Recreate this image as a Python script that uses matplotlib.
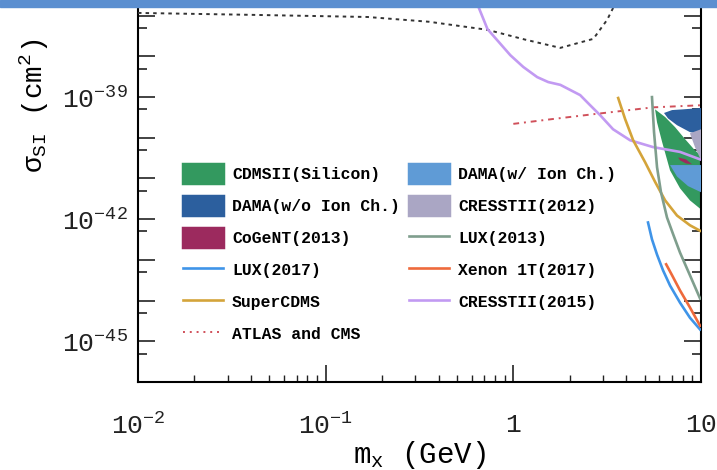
import math
import matplotlib
matplotlib.use('Agg')
import matplotlib.pyplot as plt
from matplotlib.patches import Patch, Rectangle
from matplotlib.lines import Line2D
from matplotlib.ticker import FixedLocator, FuncFormatter, NullFormatter

plt.rcParams['font.family'] = ['Liberation Mono', 'DejaVu Sans']
plt.rcParams['mathtext.fontset'] = 'custom'
plt.rcParams['mathtext.rm'] = 'Liberation Mono'
plt.rcParams['mathtext.it'] = 'Liberation Mono'
plt.rcParams['mathtext.bf'] = 'Liberation Mono:bold'
plt.rcParams['axes.unicode_minus'] = False

# ---- data (mass in GeV, cross section in cm^2) ----
# unlabelled dotted bound at the top
dotted_mass = [0.01, 0.04, 0.167, 0.355, 0.728, 1.15, 1.78, 2.67, 3.16, 3.47, 3.8]
dotted_sigma = [1.17e-37, 1.05e-37, 9.3e-38, 7.1e-38, 4.5e-38, 2.6e-38, 1.62e-38, 2.7e-38, 7.9e-38, 1.86e-37, 5e-37]

cresst15_mass = [0.605, 0.645, 0.728, 0.964, 1.13, 1.34, 1.535, 1.78, 2.27, 2.55, 2.90, 3.40, 4.19, 5.56, 7.73, 9.89]
cresst15_sigma = [4e-37, 1.86e-37, 4.7e-38, 1.07e-38, 5.5e-39, 3.1e-39, 2.34e-39, 2.0e-39, 1.12e-39, 6.5e-40,
                  3.6e-40, 1.62e-40, 8.7e-41, 5.9e-41, 4.5e-41, 2.95e-41]

atlas_mass = [1.0, 1.63, 2.67, 5.56, 9.89]
atlas_sigma = [2.2e-40, 2.9e-40, 3.8e-40, 5.6e-40, 6.3e-40]

supercdms_mass = [3.62, 3.94, 4.35, 5.04, 5.69, 6.44, 7.45, 8.73, 9.89]
supercdms_sigma = [9.5e-40, 2.9e-40, 8.7e-41, 2.5e-41, 8.3e-42, 2.9e-42, 1.23e-42, 7.1e-43, 5.2e-43]

lux13_mass = [5.48, 5.62, 5.83, 6.12, 6.59, 7.10, 7.73, 8.73, 9.89]
lux13_sigma = [1.0e-39, 1.38e-40, 1.9e-41, 4.6e-42, 1.10e-42, 4.3e-43, 1.51e-43, 4.2e-44, 1.12e-44]

lux17_mass = [5.22, 5.48, 5.83, 6.28, 6.84, 7.73, 8.73, 9.89]
lux17_sigma = [8.3e-43, 3.2e-43, 1.35e-43, 5.5e-44, 2.34e-44, 8.9e-45, 3.8e-45, 1.95e-45]

xenon_mass = [6.52, 7.01, 7.73, 8.73, 9.89]
xenon_sigma = [7.8e-44, 4.2e-44, 1.78e-44, 6.8e-45, 2.4e-45]

cdms_si_mass = [5.69, 6.44, 7.28, 8.22, 9.29, 10.0, 10.0, 8.73, 7.73, 6.84, 6.21, 5.83]
cdms_si_sigma = [5.0e-40, 3.24e-40, 1.82e-40, 9.3e-41, 4.9e-41, 3.7e-41, 1.74e-42, 2.9e-42, 5.75e-42, 1.58e-41, 7.8e-41, 2.4e-40]

dama_noion_mass = [6.35, 7.01, 8.02, 10.0, 10.0, 8.73, 7.45, 6.67]
dama_noion_sigma = [4.07e-40, 4.8e-40, 5.0e-40, 5.4e-40, 1.23e-40, 1.38e-40, 2.04e-40, 3.0e-40]

dama_ion_mass = [6.84, 10.0, 10.0, 8.53, 7.45]
dama_ion_sigma = [2.14e-41, 2.14e-41, 4.6e-42, 6.5e-42, 1.12e-41]

cresst12_mass = [8.73, 10.0, 10.0, 9.29]
cresst12_sigma = [1.29e-40, 1.62e-40, 2.8e-41, 5.9e-41]

cogent_mass = [7.55, 8.32, 8.95, 8.32, 7.73]
cogent_sigma = [3.3e-41, 2.95e-41, 2.24e-41, 2.34e-41, 2.8e-41]

x_tick_values = [0.01, 0.1, 1, 10]
x_tick_labels = [r'$\mathregular{10^{-2}}$', r'$\mathregular{10^{-1}}$', '1', '10']
y_labelled_exps = [-45, -42, -39]

# colours
c_green = '#33995f'
c_dama_ion = '#5f9bd6'
c_dama_noion = '#2c5f9e'
c_cresst12 = '#aaa6c4'
c_cogent = '#9c2a5e'
c_lux13 = '#7f9e8d'
c_lux17 = '#3f94e8'
c_xenon = '#ee6a3c'
c_supercdms = '#d4a43a'
c_cresst15 = '#c29af2'
c_atlas = '#d0505a'

fig = plt.figure(figsize=(7.17, 4.70), dpi=100)
ax = fig.add_axes([138 / 717, 1 - 382 / 470, 563 / 717, 407 / 470])
ax.set_xscale('log')
ax.set_yscale('log')
ax.set_xlim(0.01, 10)
ax.set_ylim(1e-46, 1e-36)

# filled regions
ax.fill(cdms_si_mass, cdms_si_sigma, color=c_green, lw=0, zorder=2)
ax.fill(dama_ion_mass, dama_ion_sigma, color=c_dama_ion, lw=0, zorder=3)
ax.fill(dama_noion_mass, dama_noion_sigma, color=c_dama_noion, lw=0, zorder=3)
ax.fill(cresst12_mass, cresst12_sigma, color=c_cresst12, lw=0, zorder=3)
ax.fill(cogent_mass, cogent_sigma, color=c_cogent, lw=0, zorder=4)

# limit curves
lw = 1.9
ax.plot(dotted_mass, dotted_sigma, color='#333333', lw=1.4, dashes=(1.8, 2.1), zorder=5)
ax.plot(cresst15_mass, cresst15_sigma, color=c_cresst15, lw=lw, zorder=5, solid_joinstyle='round')
ax.plot(atlas_mass, atlas_sigma, color=c_atlas, lw=1.4, dashes=(3, 2.5, 1, 2.5), zorder=5)
ax.plot(supercdms_mass, supercdms_sigma, color=c_supercdms, lw=lw, zorder=5)
ax.plot(lux13_mass, lux13_sigma, color=c_lux13, lw=lw, zorder=5)
ax.plot(lux17_mass, lux17_sigma, color=c_lux17, lw=lw, zorder=5)
ax.plot(xenon_mass, xenon_sigma, color=c_xenon, lw=lw, zorder=5)

# axes styling
for s in ax.spines.values():
    s.set_linewidth(1.5)


def x_fmt(v, pos):
    for tv, tl in zip(x_tick_values, x_tick_labels):
        if abs(math.log10(v) - math.log10(tv)) < 1e-6:
            return tl
    return ''


def y_fmt(v, pos):
    e = round(math.log10(v))
    return r'$\mathregular{10^{%d}}$' % e if e in y_labelled_exps else ''


ax.xaxis.set_major_locator(FixedLocator(x_tick_values))
ax.xaxis.set_major_formatter(FuncFormatter(x_fmt))
ax.yaxis.set_major_locator(FixedLocator([10.0 ** k for k in range(-46, -35)]))
ax.yaxis.set_minor_locator(FixedLocator([5 * 10.0 ** k for k in range(-47, -36)]))
ax.yaxis.set_major_formatter(FuncFormatter(y_fmt))
ax.yaxis.set_minor_formatter(NullFormatter())
ax.xaxis.set_minor_formatter(NullFormatter())

ax.tick_params(which='both', direction='in', top=True, right=True, colors='#222222')
ax.tick_params(which='major', length=12, width=1.2, labelsize=19)
ax.tick_params(axis='y', which='minor', length=6.5, width=1.2)
ax.tick_params(axis='x', which='minor', length=5, width=1.0)
ax.tick_params(axis='x', which='major', pad=22)
ax.tick_params(axis='y', which='major', pad=7)

ax.set_xlabel(r'$\mathregular{m_{x}\quad(GeV)}$', fontsize=21, labelpad=0.5)
fig.text(34 / 717, 1 - 106 / 470, r'$\mathregular{σ_{SI}\quad(cm^{2})}$',
         rotation=90, ha='center', va='center', fontsize=20)

# legend
def box(c, label):
    return Patch(facecolor=c, edgecolor=c, linewidth=2.5, joinstyle='round', label=label)


handles = [
    box(c_green, 'CDMSII(Silicon)'),
    box(c_dama_noion, 'DAMA(w/o Ion Ch.)'),
    box(c_cogent, 'CoGeNT(2013)'),
    Line2D([], [], color=c_lux17, lw=lw, label='LUX(2017)'),
    Line2D([], [], color=c_supercdms, lw=lw, label='SuperCDMS'),
    Line2D([], [], color=c_atlas, lw=1.4, dashes=(1, 2.5), label='ATLAS and CMS'),
    box(c_dama_ion, 'DAMA(w/ Ion Ch.)'),
    box(c_cresst12, 'CRESSTII(2012)'),
    Line2D([], [], color=c_lux13, lw=lw, label='LUX(2013)'),
    Line2D([], [], color=c_xenon, lw=lw, label='Xenon 1T(2017)'),
    Line2D([], [], color=c_cresst15, lw=lw, label='CRESSTII(2015)'),
]
ax.legend(handles=handles, ncol=2, loc='upper left',
          bbox_to_anchor=(183 / 717, 1 - 164 / 470), bbox_transform=fig.transFigure,
          frameon=False, borderpad=0, borderaxespad=0,
          prop={'family': 'Liberation Mono', 'weight': 'bold', 'size': 11.8},
          handlelength=2.44, handleheight=1.4, handletextpad=0.55,
          columnspacing=0.55, labelspacing=0.8)

# slide header band at the top
fig.add_artist(Rectangle((0, 1 - 7 / 470), 1, 7 / 470, transform=fig.transFigure,
                         color='#5b8fd0', zorder=10))

fig.savefig('out.png', dpi=100)
